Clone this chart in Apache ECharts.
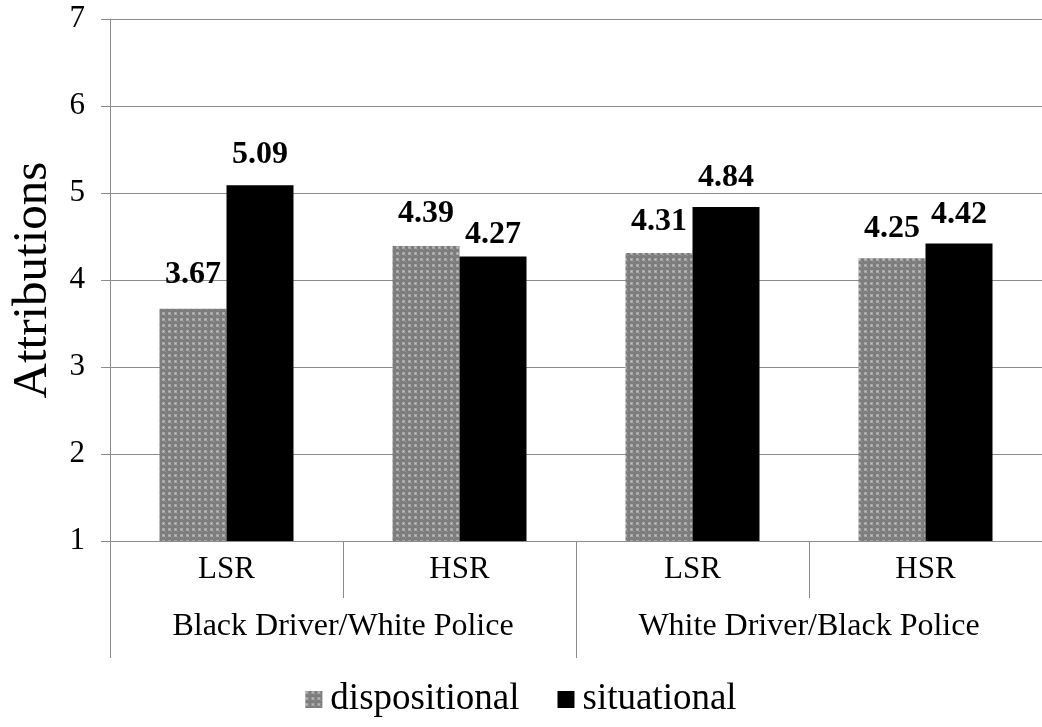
<!DOCTYPE html>
<html>
<head>
<meta charset="utf-8">
<script src="https://cdn.jsdelivr.net/npm/echarts@6/dist/echarts.min.js"></script>
<style>
  html, body { margin: 0; padding: 0; background: #fff; }
  #chart { width: 1042px; height: 727px; }
</style>
</head>
<body>
<div id="chart"></div>
<script>
// Attribution scores by driver/police pairing and SR level
const conditions = ['LSR', 'HSR', 'LSR', 'HSR'];
const groups = ['Black Driver/White Police', 'White Driver/Black Police'];
const dispositional = [3.67, 4.39, 4.31, 4.25];
const situational = [5.09, 4.27, 4.84, 4.42];
const yTicks = [1, 2, 3, 4, 5, 6, 7];

const FONT = '"Liberation Serif", "Times New Roman", serif';
const GRID = '#8c8c8c';

// Stippled grey fill for the dispositional bars
function makeStipple() {
  const c = document.createElement('canvas');
  c.width = 6; c.height = 6;
  const g = c.getContext('2d');
  g.fillStyle = '#7d7d7d';
  g.fillRect(0, 0, 6, 6);
  g.fillStyle = '#a6a6a6';
  g.fillRect(0, 0, 3, 3);
  g.fillStyle = '#c8c8c8';
  g.fillRect(1, 1, 1, 1);
  g.fillStyle = '#9a9a9a';
  g.fillRect(3, 3, 1, 1);
  return c;
}
const stipple = { image: makeStipple(), repeat: 'repeat' };

// Label distances above each bar
const dispDist = [18, 16, 15, 14];
const sitDist = [14, 6, 13, 13];

const labelStyle = {
  show: true,
  position: 'top',
  fontFamily: FONT,
  fontWeight: 'bold',
  fontSize: 32,
  color: '#000',
  formatter: p => p.value.toFixed(2)
};

const chart = echarts.init(document.getElementById('chart'), null, { renderer: 'canvas' });
chart.setOption({
  animation: false,
  backgroundColor: '#fff',
  grid: { left: 110, top: 19, width: 936, bottom: 186 },
  legend: {
    bottom: 4,
    left: 'center',
    itemWidth: 17,
    itemHeight: 17,
    itemGap: 38,
    icon: 'rect',
    textStyle: { fontFamily: FONT, fontSize: 37, color: '#000', padding: [0, 0, 0, 3] },
    data: ['dispositional', 'situational']
  },
  xAxis: [
    {
      type: 'category',
      data: conditions,
      position: 'bottom',
      axisLine: { show: true, lineStyle: { color: GRID, width: 1 } },
      axisTick: { show: true, length: 57, interval: 0, lineStyle: { color: GRID, width: 1 } },
      axisLabel: { fontFamily: FONT, fontSize: 31, color: '#000', margin: 13, interval: 0 }
    },
    {
      type: 'category',
      data: groups,
      position: 'bottom',
      offset: 0,
      axisLine: { show: false },
      axisTick: { show: true, length: 117, interval: 0, lineStyle: { color: GRID, width: 1 } },
      axisLabel: { fontFamily: FONT, fontSize: 32, color: '#000', margin: 70, interval: 0 }
    }
  ],
  yAxis: {
    type: 'value',
    min: yTicks[0],
    max: yTicks[yTicks.length - 1],
    interval: 1,
    name: 'Attributions',
    nameLocation: 'middle',
    nameGap: 52,
    nameTextStyle: { fontFamily: FONT, fontSize: 49, color: '#000' },
    axisLine: { show: true, lineStyle: { color: GRID, width: 1 } },
    axisTick: { show: true, length: 9, lineStyle: { color: GRID, width: 1 } },
    axisLabel: { fontFamily: FONT, fontSize: 31, color: '#000', margin: 25 },
    splitLine: { show: true, lineStyle: { color: GRID, width: 1 } }
  },
  series: [
    {
      name: 'dispositional',
      type: 'bar',
      xAxisIndex: 0,
      barWidth: 67,
      barGap: '0%',
      itemStyle: { color: stipple },
      data: dispositional.map((v, i) => ({ value: v, label: Object.assign({}, labelStyle, { distance: dispDist[i] }) }))
    },
    {
      name: 'situational',
      type: 'bar',
      xAxisIndex: 0,
      barWidth: 67,
      barGap: '0%',
      itemStyle: { color: '#000' },
      data: situational.map((v, i) => ({ value: v, label: Object.assign({}, labelStyle, { distance: sitDist[i] }) }))
    }
  ]
});
</script>
</body>
</html>
